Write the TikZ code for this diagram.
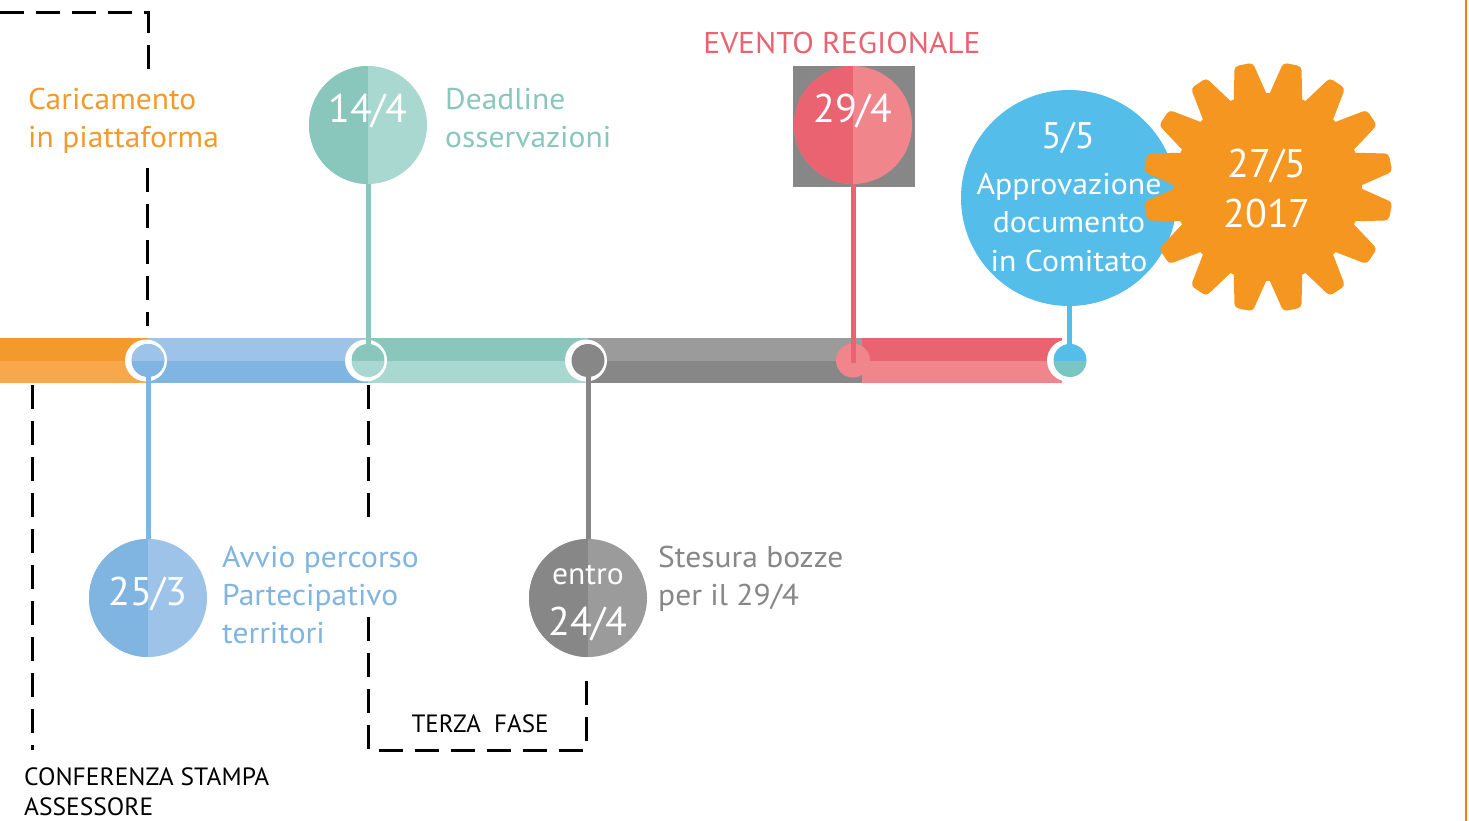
\documentclass[tikz,border=0pt]{standalone}
\usepackage{fontspec}
\setmainfont{PT Sans}
\definecolor{orD}{HTML}{F39A2C}
\definecolor{orL}{HTML}{F7A84A}
\definecolor{blL}{HTML}{9DC3E8}
\definecolor{blD}{HTML}{80B5E2}
\definecolor{tD}{HTML}{89C7BD}
\definecolor{tL}{HTML}{A8D8D0}
\definecolor{gL}{HTML}{9B9B9B}
\definecolor{gD}{HTML}{878787}
\definecolor{rD}{HTML}{E96371}
\definecolor{rL}{HTML}{F0868C}
\definecolor{sky}{HTML}{55BDE9}
\definecolor{sunc}{HTML}{F4961F}
\definecolor{teal2}{HTML}{78C5C2}
\definecolor{edgec}{HTML}{F07D1A}
\begin{document}
\begin{tikzpicture}[x=1pt,y=-1pt,
  ring/.style={circle, fill=white, minimum size=42pt, inner sep=0pt},
  jdot/.style={circle, minimum size=33pt, inner sep=0pt},
  bigc/.style={circle, minimum size=118pt, inner sep=0pt},
  tophalf/.style={path picture={\fill[#1] (path picture bounding box.north west) rectangle (path picture bounding box.east);}},
  lefthalf/.style={path picture={\fill[#1] (path picture bounding box.north west) rectangle (path picture bounding box.south);}},
  stem/.style={line width=5pt},
  dashln/.style={black, line width=3pt, dash pattern=on 24pt off 12pt},
  num/.style={font=\fontsize{40}{40}\selectfont, text=white, anchor=base, inner sep=0pt},
  intext/.style={font=\fontsize{30}{30}\selectfont, text=white, anchor=base, inner sep=0pt, transform shape, xscale=1.06},
  lbl/.style={font=\fontsize{30}{30}\selectfont, anchor=base west, inner sep=0pt, transform shape, xscale=1.05},
  blk/.style={font=\fontsize{25}{25}\selectfont, text=black, inner sep=0pt},
]
\useasboundingbox (0,0) rectangle (1469,821);
\fill[white] (0,0) rectangle (1469,821);

% right edge line
\draw[edgec, line width=2.5pt] (1466,0) -- (1466,821);

% dashed guides
\draw[dashln] (0,13) -- (148,13) -- (148,70);
\draw[dashln] (147,168) -- (147,326);
\draw[dashln] (32,385) -- (32,750);
\draw[dashln] (368,385) -- (368,528);
\draw[dashln] (368,617) -- (368,750) -- (586,750) -- (586,672);

% timeline bars
\fill[orD] (0,338) rectangle (148,360.5);
\fill[orL] (0,360.5) rectangle (148,383);
\fill[blL] (148,338) rectangle (368,360.5);
\fill[blD] (148,360.5) rectangle (368,383);
\fill[tD] (368,338) rectangle (588,360.5);
\fill[tL] (368,360.5) rectangle (588,383);
\fill[gL] (588,338) rectangle (866,360.5);
\fill[gD] (588,360.5) rectangle (866,383);
\fill[rD] (862,338) rectangle (1062,360.5);
\fill[rL] (862,360.5) rectangle (1062,383);

% rings at junctions
\node[ring] (r1) at (146,360.5) {};
\node[ring] (r2) at (366,360.5) {};
\node[ring] (r3) at (586,360.5) {};
\node[ring] (r5) at (1068,360.5) {};

% big date circles
\node[fill=gD, minimum width=122pt, minimum height=121pt, inner sep=0pt] (sq) at (854,126.5) {};
\node[bigc, fill=blL, lefthalf=blD] (c1) at (148,598) {};
\node[bigc, fill=tL, lefthalf=tD] (c2) at (368,125) {};
\node[bigc, fill=gL, lefthalf=gD] (c3) at (588,598) {};
\node[bigc, fill=rL, lefthalf=rD] (c4) at (853,125) {};
\node[circle, minimum size=216pt, inner sep=0pt, fill=sky] (c5) at (1069,198) {};

% stems
\draw[stem, blD] (c1.north |- r1.center) -- (c1.north);
\draw[stem, tD] (c2.south) -- (c2.south |- r2.center);
\draw[stem, gD] (c3.north |- r3.center) -- (c3.north);
\draw[stem, sky] (c5.south) -- (c5.south |- r5.center);

% junction dots
\node[jdot, fill=blD, tophalf=blL] (j1) at (148,360.5) {};
\node[jdot, fill=tL, tophalf=tD] (j2) at (368,360.5) {};
\node[jdot, fill=gD] (j3) at (588,360.5) {};
\node[jdot, fill=rL, minimum size=34pt] (j4) at (853,360.5) {};
\node[jdot, fill=teal2, tophalf=sky] (j5) at (1070,360.5) {};
\draw[stem, rD] (c4.south) -- ([yshift=-2pt]j4.center);

% sun
\coordinate (S) at (1268,187);
\filldraw[sunc, line width=10pt, line join=round]
  ([shift={(S)}]3.25:89pt)
  \foreach \t in {11.25,33.75,...,348.75} {
    -- ([shift={(S)}]\t-8:89pt) -- ([shift={(S)}]\t-2.5:120pt)
    -- ([shift={(S)}]\t+2.5:120pt) -- ([shift={(S)}]\t+8:89pt)
  } -- cycle;

% texts in circles
\node[num] (t1) at (148,605) {25/3};
\node[num] (t2) at (368,123) {14/4};
\node[num] (t4) at (853,123) {29/4};
\node[intext, font=\fontsize{31}{31}\selectfont, xscale=0.96] (t3a) at (588,584) {entro};
\node[num] (t3b) at (588,635) {24/4};
\node[num, font=\fontsize{37}{37}\selectfont] (t5a) at (1068,149) {5/5};
\node[intext] (t5b) at (1069,195) {Approvazione};
\node[intext] (t5c) at (1069,233) {documento};
\node[intext] (t5d) at (1069,271) {in Comitato};
\node[num] (t6a) at (1267,178) {27/5};
\node[num] (t6b) at (1267,227) {2017};

% side labels
\node[lbl, text=orD] (l1a) at (28,110) {Caricamento};
\node[lbl, text=orD] (l1b) at (28,148) {in piattaforma};
\node[lbl, text=tD] (l2a) at (445,110) {Deadline};
\node[lbl, text=tD] (l2b) at (445,148) {osservazioni};
\node[lbl, text=rD, anchor=base] (l4) at (842,54) {EVENTO REGIONALE};
\node[lbl, text=blD] (l3a) at (222,567) {Avvio percorso};
\node[lbl, text=blD] (l3b) at (222,605) {Partecipativo};
\node[lbl, text=blD] (l3c) at (222,643) {territori};
\node[lbl, text=gD] (l5a) at (658,567) {Stesura bozze};
\node[lbl, text=gD] (l5b) at (658,605) {per il 29/4};
\node[blk, anchor=base] (l6) at (480,732) {TERZA~~FASE};
\node[blk, anchor=base west, transform shape, xscale=1.02] (l7a) at (24,785) {CONFERENZA STAMPA};
\node[blk, anchor=base west, transform shape, xscale=1.02] (l7b) at (24,815) {ASSESSORE};
\end{tikzpicture}
\end{document}
